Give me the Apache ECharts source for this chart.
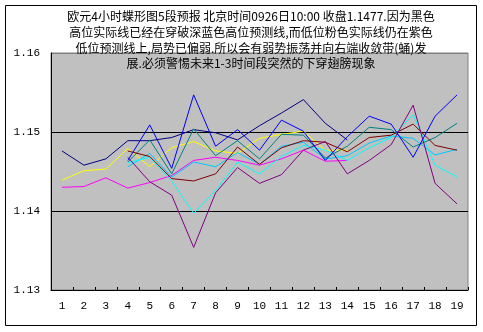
<!DOCTYPE html>
<html>
<head>
<meta charset="utf-8">
<script src="https://cdn.jsdelivr.net/npm/echarts@6/dist/echarts.min.js"></script>
<style>
  html, body { margin: 0; padding: 0; background: #ffffff; }
  #chart { width: 483px; height: 332px; }
</style>
</head>
<body>
<div id="chart"></div>
<script>
// 4-hour EUR butterfly chart, 19 periods
const categories = ['1','2','3','4','5','6','7','8','9','10','11','12','13','14','15','16','17','18','19'];

const yMin = 1.13, yMax = 1.16, yStep = 0.01;

const titleLines = [
  '欧元4小时蝶形图5段预报 北京时间0926日10:00 收盘1.1477.因为黑色',
  '高位实际线已经在穿破深蓝色高位预测线,而低位粉色实际线仍在紫色',
  '低位预测线上,局势已偏弱.所以会有弱势振荡并向右端收敛带(蛹)发',
  '展.必须警惕未来1-3时间段突然的下穿翅膀现象'
];

// high-band forecast (navy)
const navySeries = [1.1476, 1.1458, 1.1466, 1.1489, 1.1489, 1.1493, 1.1503, 1.1499, 1.1490, 1.1508, 1.1524, 1.1541, 1.1511, 1.1490];
// high-band actual (blue)
const blueSeries = [null, null, null, 1.1464, 1.1509, 1.1454, 1.1547, 1.1482, 1.1503, 1.1477, 1.1515, 1.1501, 1.1464, 1.1494, 1.1520, 1.1510, 1.1468, 1.1520, 1.1547];
// yellow
const yellowSeries = [1.1439, 1.1451, 1.1453, 1.1479, 1.1456, 1.1480, 1.1488, 1.1476, 1.1473, 1.1492, 1.1497, 1.1501, 1.1477, 1.1477];
// low-band actual (pink)
const magentaSeries = [1.1430, 1.1431, 1.1442, 1.1429, 1.1436, 1.1445, 1.1464, 1.1468, 1.1464, 1.1458, 1.1466, 1.1477, 1.1463, 1.1464];
// dark red
const darkRedSeries = [null, null, null, 1.1476, 1.1469, 1.1441, 1.1438, 1.1447, 1.1481, 1.1459, 1.1480, 1.1489, 1.1487, 1.1475, 1.1493, 1.1496, 1.1510, 1.1483, 1.1477];
// teal
const tealSeries = [null, null, null, 1.1462, 1.1490, 1.1447, 1.1504, 1.1470, 1.1489, 1.1466, 1.1497, 1.1496, 1.1467, 1.1482, 1.1506, 1.1503, 1.1481, 1.1493, 1.1511];
// sky blue
const skySeries = [null, null, null, 1.1456, 1.1473, 1.1443, 1.1462, 1.1456, 1.1474, 1.1459, 1.1482, 1.1487, 1.1466, 1.1470, 1.1486, 1.1495, 1.1492, 1.1471, 1.1478];
// cyan
const cyanSeries = [null, null, null, 1.1461, 1.1468, 1.1438, 1.1397, 1.1426, 1.1462, 1.1447, 1.1469, 1.1483, 1.1477, 1.1464, 1.1480, 1.1493, 1.1522, 1.1458, 1.1443];
// low-band forecast (purple)
const purpleSeries = [null, null, null, 1.1468, 1.1437, 1.1420, 1.1354, 1.1423, 1.1455, 1.1435, 1.1446, 1.1477, 1.1488, 1.1447, 1.1464, 1.1484, 1.1534, 1.1435, 1.1409];

const seriesDefs = [
  { name: '黄', data: yellowSeries, color: '#FFFF00' },
  { name: '粉', data: magentaSeries, color: '#FF00FF' },
  { name: '深蓝', data: navySeries, color: '#000080' },
  { name: '天蓝', data: skySeries, color: '#00C8FF' },
  { name: '青', data: cyanSeries, color: '#00FFFF' },
  { name: '蓝绿', data: tealSeries, color: '#008080' },
  { name: '褐', data: darkRedSeries, color: '#800000' },
  { name: '紫', data: purpleSeries, color: '#800080' },
  { name: '蓝', data: blueSeries, color: '#0000FF' }
];

const chart = echarts.init(document.getElementById('chart'), null, { renderer: 'canvas' });

chart.setOption({
  animation: false,
  backgroundColor: '#ffffff',
  graphic: [{
    type: 'rect',
    shape: { x: 5.5, y: 5.5, width: 471, height: 320 },
    style: { fill: 'none', stroke: '#000000', lineWidth: 1 },
    z: 100
  }],
  title: {
    text: titleLines.join('\n'),
    left: 246,
    top: 4,
    textAlign: 'center',
    z: 10,
    textStyle: {
      fontFamily: '"Noto Sans CJK SC", sans-serif',
      fontSize: 12,
      fontWeight: 'normal',
      color: '#000000',
      lineHeight: 15.6
    }
  },
  grid: {
    left: 51,
    right: 15,
    top: 53,
    bottom: 42,
    show: true,
    backgroundColor: '#C0C0C0',
    borderColor: '#808080',
    borderWidth: 1
  },
  xAxis: {
    type: 'category',
    data: categories,
    boundaryGap: true,
    axisLine: { show: true, lineStyle: { color: '#000000', width: 1 } },
    axisTick: { show: true, inside: true, length: 3, lineStyle: { color: '#000000' } },
    axisLabel: {
      color: '#000000',
      fontFamily: '"Liberation Mono", monospace',
      fontSize: 11,
      margin: 11
    },
    splitLine: { show: false }
  },
  yAxis: {
    type: 'value',
    min: yMin,
    max: yMax,
    interval: yStep,
    axisLine: { show: true, lineStyle: { color: '#000000', width: 1 } },
    axisTick: { show: false },
    axisLabel: {
      color: '#000000',
      fontFamily: '"Liberation Mono", monospace',
      fontSize: 11,
      margin: 11,
      formatter: v => v.toFixed(2)
    },
    splitLine: {
      show: true,
      lineStyle: { color: ['#000000', '#000000', '#000000', '#808080'], width: 1 }
    }
  },
  series: seriesDefs.map(s => ({
    type: 'line',
    name: s.name,
    data: s.data,
    showSymbol: false,
    symbol: 'none',
    connectNulls: false,
    lineStyle: { color: s.color, width: 1 },
    itemStyle: { color: s.color },
    emphasis: { disabled: true }
  }))
});
</script>
</body>
</html>
